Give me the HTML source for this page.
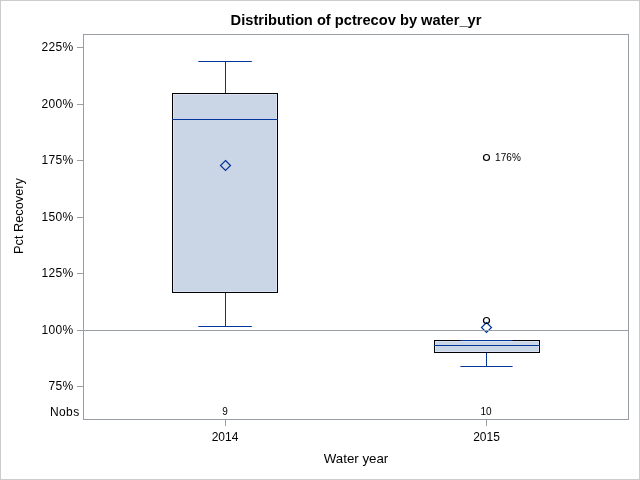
<!DOCTYPE html>
<html>
<head>
<meta charset="utf-8">
<style>
html,body{margin:0;padding:0;background:#fff;width:640px;height:480px;overflow:hidden;}
svg{display:block;will-change:transform;}
text{font-family:"Liberation Sans",sans-serif;fill:#000;}
</style>
</head>
<body>
<svg width="640" height="480" viewBox="0 0 640 480">
<!-- outer border -->
<rect x="0.5" y="0.5" width="639" height="479" fill="#fff" stroke="#cccccc" stroke-width="1"/>

<!-- title -->
<text x="356" y="25" font-size="14.67" font-weight="bold" text-anchor="middle">Distribution of pctrecov by water_yr</text>

<!-- y axis label -->
<text transform="translate(23 216) rotate(-90)" font-size="12.75" text-anchor="middle">Pct Recovery</text>

<!-- x axis label -->
<text x="356" y="463" font-size="13.3" text-anchor="middle">Water year</text>

<!-- frame -->
<rect x="83.5" y="34.5" width="545" height="385" fill="none" stroke="#989ea3" stroke-width="1"/>

<!-- y ticks -->
<g stroke="#989ea3" stroke-width="1">
<line x1="77" y1="47.5" x2="83" y2="47.5"/>
<line x1="77" y1="104.5" x2="83" y2="104.5"/>
<line x1="77" y1="160.5" x2="83" y2="160.5"/>
<line x1="77" y1="217.5" x2="83" y2="217.5"/>
<line x1="77" y1="273.5" x2="83" y2="273.5"/>
<line x1="77" y1="330.5" x2="83" y2="330.5"/>
<line x1="77" y1="386.5" x2="83" y2="386.5"/>
<!-- x ticks -->
<line x1="225.5" y1="420" x2="225.5" y2="426"/>
<line x1="486.5" y1="420" x2="486.5" y2="426"/>
</g>

<!-- y tick labels -->
<g font-size="12" letter-spacing="0.35" text-anchor="end">
<text x="73.6" y="51">225%</text>
<text x="73.6" y="108">200%</text>
<text x="73.6" y="164">175%</text>
<text x="73.6" y="221">150%</text>
<text x="73.6" y="277">125%</text>
<text x="73.6" y="334">100%</text>
<text x="73.6" y="390">75%</text>
<text x="79.5" y="416">Nobs</text>
</g>

<!-- x tick labels -->
<g font-size="12" text-anchor="middle">
<text x="225" y="441">2014</text>
<text x="486.5" y="441">2015</text>
</g>

<!-- nobs values -->
<g font-size="10" text-anchor="middle">
<text x="225" y="415">9</text>
<text x="486" y="415">10</text>
</g>

<!-- box 2014 -->
<rect x="172.5" y="93.5" width="105" height="199" fill="#cad5e5" stroke="#000" stroke-width="1"/>
<rect x="173.5" y="94.5" width="103" height="197" fill="none" stroke="#d8e2f3" stroke-width="1"/>
<g stroke="#023499" stroke-width="1" fill="none">
<line x1="172" y1="119.5" x2="278" y2="119.5"/>
<line x1="225.5" y1="61.5" x2="225.5" y2="93"/>
<line x1="198.3" y1="61.5" x2="251.8" y2="61.5"/>
<line x1="225.5" y1="293" x2="225.5" y2="326.5"/>
<line x1="198.3" y1="326.5" x2="251.8" y2="326.5"/>
<path d="M225.5 160.5 L230.5 165.5 L225.5 170.5 L220.5 165.5 Z" stroke-width="1.2"/>
</g>

<!-- box 2015 -->
<rect x="434.5" y="340.5" width="105" height="12" fill="#cad5e5" stroke="#000" stroke-width="1"/>
<rect x="435.5" y="341.5" width="103" height="10" fill="none" stroke="#d8e2f3" stroke-width="1"/>
<g stroke="#023499" stroke-width="1" fill="none">
<line x1="434" y1="345.5" x2="540" y2="345.5"/>
<line x1="460.4" y1="340.5" x2="512.6" y2="340.5"/>
<line x1="486.5" y1="353" x2="486.5" y2="366.5"/>
<line x1="460.4" y1="366.5" x2="512.6" y2="366.5"/>
<path d="M486.5 322.5 L491.5 327.5 L486.5 332.5 L481.5 327.5 Z" stroke-width="1.2"/>
</g>

<!-- reference line -->
<line x1="84" y1="330.5" x2="628" y2="330.5" stroke="#989ea3" stroke-width="1"/>

<!-- outliers -->
<g stroke="#000" stroke-width="1.2" fill="none">
<circle cx="486.5" cy="320.5" r="3"/>
<circle cx="486.5" cy="157.5" r="3"/>
</g>
<text x="495" y="161" font-size="10" letter-spacing="0.1">176%</text>

</svg>
</body>
</html>
